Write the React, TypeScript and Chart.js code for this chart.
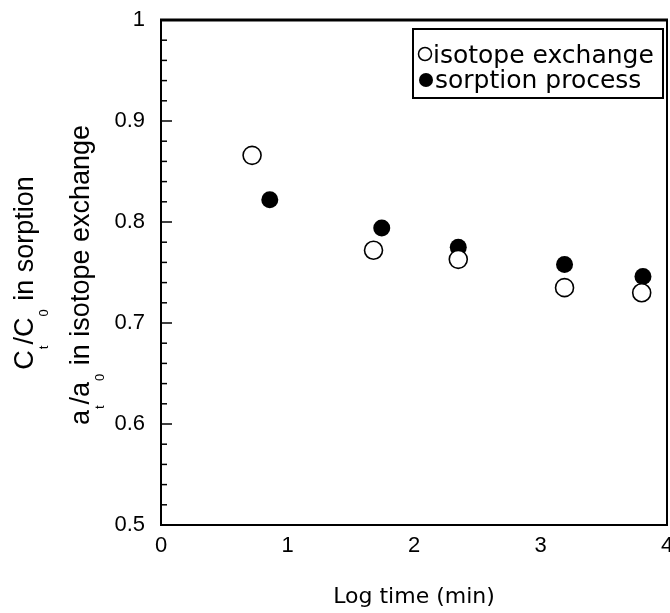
import React, { useEffect, useRef } from "react";
import { Chart, registerables } from "chart.js";

Chart.register(...registerables);

// ---- data ----
const seriesLabels = ["isotope exchange", "sorption process"];
const isotopeX = [0.72, 1.68, 2.35, 3.19, 3.8];
const isotopeY = [0.866, 0.772, 0.763, 0.735, 0.73];
const sorptionX = [0.86, 1.745, 2.35, 3.19, 3.81];
const sorptionY = [0.822, 0.794, 0.775, 0.758, 0.746];
const xTickValues = [0, 1, 2, 3, 4];
const xTickLabels = ["0", "1", "2", "3", "4"];
const yTickValues = [0.5, 0.6, 0.7, 0.8, 0.9, 1];
const yTickLabels = ["0.5", "0.6", "0.7", "0.8", "0.9", "1"];
const xTitle = "Log time (min)";
// y title: [text, isSubscript]
const yTitleLine1: [string, boolean][] = [["C", false], ["t", true], ["/", false], ["C", false], ["0", true], [" in sorption", false]];
const yTitleLine2: [string, boolean][] = [["a", false], ["t", true], ["/", false], ["a", false], ["0", true], [" in isotope exchange", false]];

const MAIN_FONT = "27px 'Liberation Sans', Arial, sans-serif";
const SUB_FONT = "13px 'Liberation Sans', Arial, sans-serif";
const LEGEND_FONT = "25px 'DejaVu Sans', sans-serif";

function drawRotatedLine(ctx: CanvasRenderingContext2D, parts: [string, boolean][], baseX: number, centerY: number) {
  let total = 0;
  for (const [t, sub] of parts) {
    ctx.font = sub ? SUB_FONT : MAIN_FONT;
    total += ctx.measureText(t).width + (sub ? 2 : 0);
  }
  ctx.save();
  ctx.translate(baseX, centerY);
  ctx.rotate(-Math.PI / 2);
  ctx.fillStyle = "#000";
  ctx.textBaseline = "alphabetic";
  ctx.textAlign = "left";
  let x = -total / 2;
  for (const [t, sub] of parts) {
    ctx.font = sub ? SUB_FONT : MAIN_FONT;
    ctx.fillText(t, x + (sub ? 1 : 0), sub ? 15 : 0);
    x += ctx.measureText(t).width + (sub ? 2 : 0);
  }
  ctx.restore();
}

const framePlugin = {
  id: "frame",
  beforeDatasetsDraw(chart: any) {
    const { ctx, chartArea } = chart;
    const { left, right, top, bottom } = chartArea;
    ctx.save();
    ctx.strokeStyle = "#000";
    ctx.lineWidth = 2;
    ctx.strokeRect(left, top, right - left, bottom - top);
    ctx.lineWidth = 3;
    ctx.beginPath();
    ctx.moveTo(left - 1, top);
    ctx.lineTo(right + 1, top);
    ctx.stroke();
    // inward y ticks
    const ys = chart.scales.y;
    ctx.lineWidth = 1.5;
    for (let k = 1; k < 25; k++) {
      const v = 0.5 + k * 0.02;
      const py = ys.getPixelForValue(v);
      const len = k % 5 === 0 ? 11 : 6;
      ctx.beginPath();
      ctx.moveTo(left, py);
      ctx.lineTo(left + len, py);
      ctx.stroke();
    }
    ctx.restore();
  },
  afterDraw(chart: any) {
    const { ctx } = chart;
    ctx.save();
    // legend box
    ctx.strokeStyle = "#000";
    ctx.lineWidth = 2;
    ctx.strokeRect(413, 29, 250, 69);
    const ds = chart.data.datasets;
    // row 1 open circle
    ctx.beginPath();
    ctx.arc(425, 54, 6.5, 0, Math.PI * 2);
    ctx.fillStyle = "#fff";
    ctx.fill();
    ctx.lineWidth = 1.5;
    ctx.stroke();
    // row 2 filled circle
    ctx.beginPath();
    ctx.arc(426, 80, 7, 0, Math.PI * 2);
    ctx.fillStyle = "#000";
    ctx.fill();
    ctx.font = LEGEND_FONT;
    ctx.fillStyle = "#000";
    ctx.textBaseline = "alphabetic";
    ctx.textAlign = "left";
    ctx.fillText(ds[0].label, 433, 63);
    ctx.fillText(ds[1].label, 435, 88);
    ctx.restore();

    // y title
    drawRotatedLine(ctx, yTitleLine1, 33, 273);
    drawRotatedLine(ctx, yTitleLine2, 89, 275);
  },
};

export default function App() {
  const ref = useRef<HTMLCanvasElement | null>(null);
  useEffect(() => {
    const canvas = ref.current;
    if (!canvas) return;
    const chart = new Chart(canvas, {
      type: "scatter",
      data: {
        datasets: [
          {
            label: seriesLabels[0],
            data: isotopeX.map((x, i) => ({ x, y: isotopeY[i] })),
            pointStyle: "circle",
            pointRadius: 9,
            pointBorderWidth: 1.6,
            pointBackgroundColor: "#fff",
            pointBorderColor: "#000",
          },
          {
            label: seriesLabels[1],
            data: sorptionX.map((x, i) => ({ x, y: sorptionY[i] })),
            pointStyle: "circle",
            pointRadius: 8.5,
            pointBorderWidth: 0,
            pointBackgroundColor: "#000",
            pointBorderColor: "#000",
          },
        ],
      },
      options: {
        animation: false,
        responsive: false,
        devicePixelRatio: 1,
        layout: { autoPadding: false, padding: { left: 0, right: 3, top: 20, bottom: 0 } },
        plugins: { legend: { display: false }, tooltip: { enabled: false } },
        scales: {
          x: {
            type: "linear",
            min: 0,
            max: 4,
            afterBuildTicks: (s: any) => {
              s.ticks = xTickValues.map((v) => ({ value: v }));
            },
            afterFit: (s: any) => {
              s.height = 88;
              s.paddingLeft = 0;
              s.paddingRight = 0;
            },
            grid: { display: false, drawTicks: false },
            border: { display: false },
            ticks: {
              color: "#000",
              padding: 8,
              maxRotation: 0,
              font: { family: "'Liberation Sans', Arial, sans-serif", size: 22 },
              callback: (_v: any, i: number) => xTickLabels[i],
            },
            title: {
              display: true,
              text: xTitle,
              color: "#000",
              font: { family: "'DejaVu Sans', sans-serif", size: 22 },
              padding: { top: 0, bottom: 3 },
            },
          },
          y: {
            type: "linear",
            min: 0.5,
            max: 1,
            afterBuildTicks: (s: any) => {
              s.ticks = yTickValues.map((v) => ({ value: v }));
            },
            afterFit: (s: any) => {
              s.width = 161;
              s.paddingTop = 0;
              s.paddingBottom = 0;
            },
            grid: { display: false, drawTicks: false },
            border: { display: false },
            ticks: {
              color: "#000",
              padding: 16,
              font: { family: "'Liberation Sans', Arial, sans-serif", size: 22 },
              callback: (_v: any, i: number) => yTickLabels[i],
            },
          },
        },
      },
      plugins: [framePlugin],
    } as any);
    return () => chart.destroy();
  }, []);
  return (
    <div style={{ position: "absolute", left: 0, top: 0, width: 670, height: 613, background: "#fff" }}>
      <canvas ref={ref} width={670} height={613} style={{ display: "block", width: 670, height: 613 }} />
    </div>
  );
}
